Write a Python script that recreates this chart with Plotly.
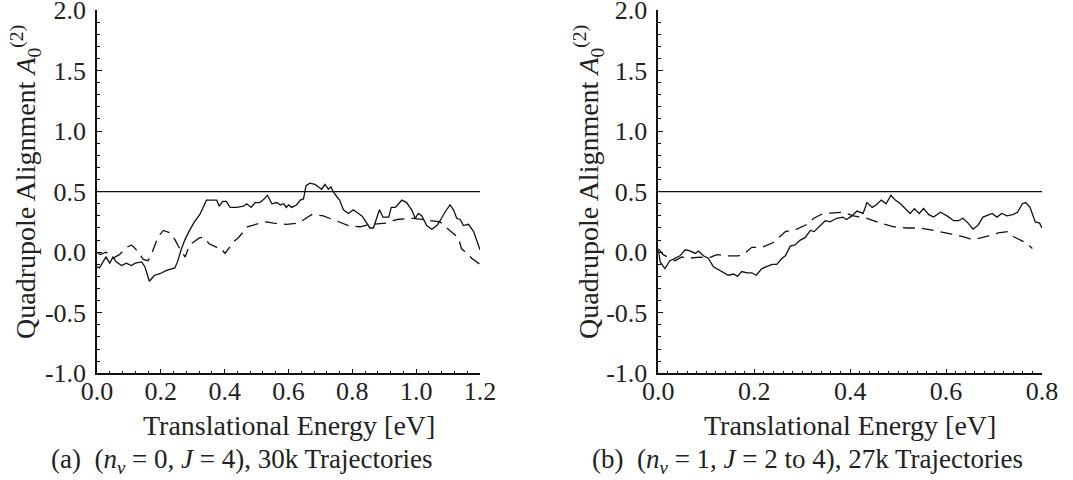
import plotly.graph_objects as go

# ---------------- data ----------------
# Panel (a): (n_v = 0, J = 4), 30k trajectories
a_solid_E = [0.0, 0.008, 0.028, 0.04, 0.05, 0.06, 0.077, 0.092, 0.108, 0.12,
             0.14, 0.15, 0.164, 0.18, 0.195, 0.218, 0.244, 0.252, 0.265, 0.275,
             0.29, 0.305, 0.322, 0.343, 0.375, 0.383, 0.394, 0.405, 0.417, 0.438,
             0.459, 0.469, 0.483, 0.495, 0.51, 0.52, 0.534, 0.548, 0.564, 0.574,
             0.585, 0.593, 0.6, 0.61, 0.625, 0.637, 0.647, 0.655, 0.667, 0.683,
             0.693, 0.704, 0.714, 0.725, 0.733, 0.74, 0.751, 0.76, 0.772, 0.788,
             0.803, 0.819, 0.83, 0.84, 0.855, 0.866, 0.874, 0.885, 0.896, 0.914,
             0.922, 0.935, 0.945, 0.955, 0.97, 0.986, 0.997, 1.007, 1.018, 1.033,
             1.049, 1.065, 1.075, 1.09, 1.106, 1.117, 1.127, 1.138, 1.148, 1.164,
             1.18, 1.19, 1.2]
a_solid_A = [-0.12, -0.13, -0.04, -0.09, -0.04, -0.08, -0.11, -0.09, -0.11, -0.09,
             -0.08, -0.12, -0.24, -0.19, -0.18, -0.15, -0.13, -0.08, 0.03, 0.10,
             0.18, 0.25, 0.31, 0.43, 0.43, 0.38, 0.42, 0.42, 0.37, 0.37,
             0.38, 0.40, 0.37, 0.41, 0.41, 0.43, 0.47, 0.40, 0.41, 0.39,
             0.40, 0.37, 0.39, 0.37, 0.39, 0.43, 0.44, 0.55, 0.57, 0.56,
             0.54, 0.52, 0.56, 0.52, 0.54, 0.50, 0.46, 0.43, 0.35, 0.32,
             0.35, 0.32, 0.30, 0.26, 0.20, 0.20, 0.26, 0.35, 0.29, 0.29,
             0.37, 0.37, 0.40, 0.43, 0.41, 0.35, 0.28, 0.32, 0.30, 0.22,
             0.19, 0.22, 0.26, 0.33, 0.39, 0.35, 0.28, 0.27, 0.22, 0.23,
             0.17, 0.085, 0.02]

a_dash_E = [0.0, 0.01, 0.028, 0.05, 0.07, 0.093, 0.108, 0.12, 0.145, 0.16,
            0.17, 0.192, 0.208, 0.23, 0.245, 0.255, 0.276, 0.29, 0.322, 0.337,
            0.351, 0.375, 0.386, 0.401, 0.429, 0.443, 0.459, 0.471, 0.511, 0.532,
            0.553, 0.594, 0.631, 0.672, 0.709, 0.751, 0.788, 0.824, 0.855, 0.907,
            0.94, 0.991, 1.023, 1.075, 1.096, 1.132, 1.142, 1.174, 1.2]
a_dash_A = [0.0, -0.02, 0.0, -0.05, -0.02, 0.04, 0.06, 0.03, -0.06, -0.07,
            -0.02, 0.13, 0.18, 0.16, 0.10, 0.05, -0.04, 0.06, 0.12, 0.12,
            0.07, 0.04, 0.04, -0.01, 0.09, 0.12, 0.17, 0.21, 0.24, 0.25,
            0.24, 0.23, 0.24, 0.31, 0.30, 0.26, 0.22, 0.21, 0.23, 0.24,
            0.27, 0.28, 0.27, 0.25, 0.20, 0.12, 0.03, -0.05, -0.10]

# Panel (b): (n_v = 1, J = 2 to 4), 27k trajectories
b_solid_E = [0.0, 0.004, 0.014, 0.024, 0.035, 0.045, 0.056, 0.066, 0.077, 0.084,
             0.094, 0.104, 0.115, 0.129, 0.146, 0.157, 0.165, 0.174, 0.185, 0.195,
             0.204, 0.216, 0.226, 0.237, 0.247, 0.258, 0.265, 0.275, 0.285, 0.296,
             0.306, 0.317, 0.325, 0.338, 0.348, 0.358, 0.372, 0.385, 0.392, 0.404,
             0.414, 0.427, 0.435, 0.446, 0.454, 0.465, 0.475, 0.485, 0.494, 0.505,
             0.515, 0.525, 0.534, 0.544, 0.553, 0.564, 0.574, 0.588, 0.602, 0.616,
             0.626, 0.635, 0.646, 0.656, 0.666, 0.677, 0.696, 0.706, 0.716, 0.727,
             0.739, 0.749, 0.759, 0.766, 0.775, 0.786, 0.795, 0.8]
b_solid_A = [0.02, -0.08, -0.135, -0.07, -0.05, -0.03, 0.02, 0.01, -0.01, 0.01,
             -0.03, -0.05, -0.12, -0.15, -0.19, -0.18, -0.20, -0.16, -0.17, -0.17,
             -0.19, -0.135, -0.115, -0.10, -0.10, -0.05, -0.03, 0.05, 0.06, 0.10,
             0.12, 0.18, 0.17, 0.22, 0.26, 0.25, 0.28, 0.29, 0.27, 0.30,
             0.34, 0.32, 0.41, 0.37, 0.39, 0.43, 0.40, 0.47, 0.43, 0.40,
             0.36, 0.32, 0.36, 0.32, 0.36, 0.31, 0.29, 0.33, 0.30, 0.26,
             0.26, 0.28, 0.24, 0.19, 0.22, 0.29, 0.32, 0.29, 0.32, 0.30,
             0.31, 0.33, 0.40, 0.41, 0.37, 0.25, 0.24, 0.20]

b_dash_E = [0.0, 0.01, 0.035, 0.049, 0.063, 0.087, 0.104, 0.122, 0.143, 0.167,
            0.177, 0.195, 0.216, 0.24, 0.265, 0.289, 0.31, 0.324, 0.344, 0.365,
            0.386, 0.407, 0.435, 0.463, 0.491, 0.519, 0.546, 0.574, 0.588, 0.612,
            0.633, 0.65, 0.664, 0.685, 0.709, 0.729, 0.74, 0.765, 0.78]
b_dash_A = [0.03, -0.02, -0.07, -0.04, -0.05, -0.04, -0.05, -0.02, -0.03, -0.03,
            -0.02, 0.04, 0.04, 0.08, 0.17, 0.19, 0.23, 0.28, 0.32, 0.325,
            0.33, 0.30, 0.28, 0.24, 0.21, 0.20, 0.20, 0.18, 0.17, 0.15,
            0.13, 0.11, 0.11, 0.13, 0.16, 0.17, 0.13, 0.08, 0.03]

reference_level = 0.5
a_range = [0.0, 1.2]
b_range = [0.0, 0.8]
y_range = [-1.0, 2.0]

a_xticks = [0.0, 0.2, 0.4, 0.6, 0.8, 1.0, 1.2]
b_xticks = [0.0, 0.2, 0.4, 0.6, 0.8]
y_ticks = [-1.0, -0.5, 0.0, 0.5, 1.0, 1.5, 2.0]
y_ticktext = ["-1.0", "-0.5", "0.0", "0.5", "1.0", "1.5", "2.0"]

x_title = "Translational Energy [eV]"
y_title = "Quadrupole Alignment <i>A</i><sub>0</sub><sup>(2)</sup>"
caption_a = "(a)  (<i>n<sub>v</sub></i> = 0, <i>J</i> = 4), 30k Trajectories"
caption_b = "(b)  (<i>n<sub>v</sub></i> = 1, <i>J</i> = 2 to 4), 27k Trajectories"

# ---------------- figure ----------------
FONT = "Liberation Serif"
W, H = 1073, 480
ink = "#111111"
txt = "#222222"

fig = go.Figure()

def add_panel(xa, ya, sE, sA, dE, dA, xr):
    fig.add_trace(go.Scatter(x=xr, y=[reference_level, reference_level], mode="lines",
                             line=dict(color=ink, width=1.4), xaxis=xa, yaxis=ya,
                             showlegend=False, hoverinfo="skip"))
    fig.add_trace(go.Scatter(x=dE, y=dA, mode="lines",
                             line=dict(color=ink, width=1.3, dash="12px,7px"),
                             xaxis=xa, yaxis=ya, showlegend=False))
    fig.add_trace(go.Scatter(x=sE, y=sA, mode="lines",
                             line=dict(color=ink, width=1.3),
                             xaxis=xa, yaxis=ya, showlegend=False))

add_panel("x", "y", a_solid_E, a_solid_A, a_dash_E, a_dash_A, a_range)
add_panel("x2", "y2", b_solid_E, b_solid_A, b_dash_E, b_dash_A, b_range)

ydom = [1 - 373.3 / H, 1 - 10 / H]
xdom_a = [97 / W, 480 / W]
xdom_b = [658.3 / W, 1042 / W]

tickfont = dict(family=FONT, size=26, color=txt)

def xaxis_cfg(dom, rng, ticks, minor_dt, anchor):
    return dict(domain=dom, range=rng, tickvals=ticks,
                ticktext=[f"{t:.1f}" for t in ticks],
                ticks="inside", ticklen=5, tickwidth=1.2, tickcolor=ink,
                minor=dict(ticks="inside", ticklen=3, tickwidth=1, tickcolor=ink, dtick=minor_dt,
                           tick0=0, showgrid=False),
                showline=True, linecolor=ink, linewidth=1.5, mirror=False,
                showgrid=False, zeroline=False, tickfont=tickfont,
                ticklabelstandoff=-6, ticklabeloverflow="allow", automargin=False,
                anchor=anchor, fixedrange=True)

def yaxis_cfg(anchor):
    return dict(domain=ydom, range=y_range, tickvals=y_ticks, ticktext=y_ticktext,
                ticks="inside", ticklen=5, tickwidth=1.2, tickcolor=ink,
                minor=dict(ticks="inside", ticklen=3, tickwidth=1, tickcolor=ink, dtick=0.1,
                           tick0=0, showgrid=False),
                showline=True, linecolor=ink, linewidth=1.5,
                showgrid=False, zeroline=False, tickfont=tickfont,
                ticklabelstandoff=4, ticklabeloverflow="allow", automargin=False,
                anchor=anchor, fixedrange=True)

fig.update_layout(
    width=W, height=H, autosize=False,
    margin=dict(l=0, r=0, t=0, b=0, pad=0, autoexpand=False),
    paper_bgcolor="white", plot_bgcolor="white",
    font=dict(family=FONT, size=26, color=txt),
    xaxis=xaxis_cfg(xdom_a, a_range, a_xticks, 0.04, "y"),
    yaxis=yaxis_cfg("x"),
    xaxis2=xaxis_cfg(xdom_b, b_range, b_xticks, 0.02, "y2"),
    yaxis2=yaxis_cfg("x2"),
    showlegend=False,
)

title_font = dict(family=FONT, size=28, color=txt)
cap_font = dict(family=FONT, size=27, color=txt)
annotations = [
    dict(text=x_title, x=(xdom_a[0] + xdom_a[1]) / 2, y=1 - 425 / H, font=title_font),
    dict(text=x_title, x=(xdom_b[0] + xdom_b[1]) / 2, y=1 - 425 / H, font=title_font),
    dict(text=caption_a, x=242 / W, y=1 - 461 / H, font=cap_font),
    dict(text=caption_b, x=807 / W, y=1 - 461 / H, font=cap_font),
    dict(text=y_title, x=25 / W, y=1 - 182 / H, textangle=-90, font=title_font),
    dict(text=y_title, x=588 / W, y=1 - 182 / H, textangle=-90, font=title_font),
]
for a in annotations:
    fig.add_annotation(xref="paper", yref="paper", xanchor="center", yanchor="middle",
                       showarrow=False, **a)

fig.write_html("out.html")
